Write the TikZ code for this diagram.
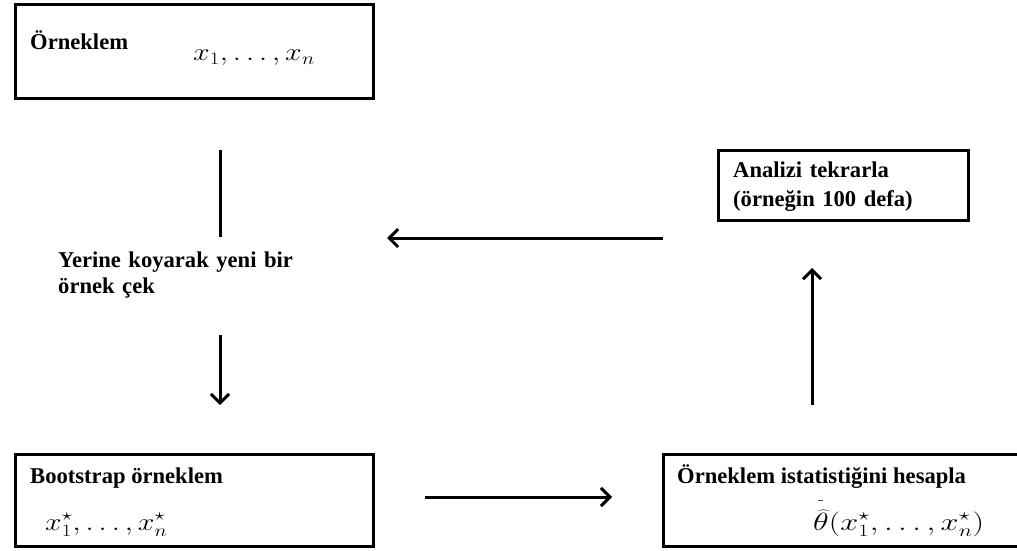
\documentclass[tikz,border=0pt]{standalone}
\usepackage{fontspec}
\setmainfont{Liberation Serif}
\usetikzlibrary{arrows.meta}
\tikzset{
  box/.style={draw=black, line width=3pt, fill=white},
  lbl/.style={font=\fontsize{22.6}{29}\selectfont\bfseries, anchor=base west, inner sep=0pt, align=left},
  mth/.style={font=\fontsize{24}{28}\selectfont, anchor=base west, inner sep=0pt},
  flow/.style={line width=3pt, -{Straight Barb[length=9pt, width=18pt, line width=3pt]}},
  plain/.style={line width=3pt}
}
\begin{document}
\begin{tikzpicture}[x=1pt, y=-1pt]
\clip (0,0) rectangle (1017,551);
\fill[white] (0,0) rectangle (1017,551);
% boxes
\draw[box] (15,5) rectangle (373,98);
\draw[box] (718,150) rectangle (968,220);
\draw[box] (15,454) rectangle (373,546);
\draw[box] (663,454) rectangle (1030,546);
% texts
\node[lbl] (t1) at (30,49) {Örneklem};
\node[mth] (m1) at (193,61) {\scalebox{1.2}[1]{$x_1,\ldots,x_n$}};
\node[lbl, text width=260pt] (t2) at (733,177) {Analizi tekrarla\\(örneğin 100 defa)};
\node[lbl] (t3) at (30,483) {Bootstrap örneklem};
\node[mth] (m3) at (45,530) {\scalebox{1.2}[1]{$x_1^\star,\ldots,x_n^\star$}};
\node[lbl] (t4) at (677,483) {Örneklem istatistiğini hesapla};
\node[mth] (m4) at (813,530) {\scalebox{1.3}[1]{$\widehat{\theta}(x_1^\star,\ldots,x_n^\star)$}};
\node[lbl, text width=300pt] (t5) at (58,267) {Yerine koyarak yeni bir\\[-3pt]örnek çek};
\draw[line width=0.8pt, black!70] (818,500) -- (823,500);
% connectors
\coordinate (a1s) at (220,150);
\coordinate (a1e) at (220,237);
\coordinate (a2s) at (220,335);
\coordinate (a2e) at (220,405);
\coordinate (a3s) at (425,497);
\coordinate (a3e) at (612,497);
\coordinate (a4s) at (812,405);
\coordinate (a4e) at (812,268);
\coordinate (a5s) at (663,238);
\coordinate (a5e) at (387,238);
\draw[plain] (a1s) -- (a1e);
\draw[flow] (a2s) -- (a2e);
\draw[flow] (a3s) -- (a3e);
\draw[flow] (a4s) -- (a4e);
\draw[flow] (a5s) -- (a5e);
\end{tikzpicture}
\end{document}
